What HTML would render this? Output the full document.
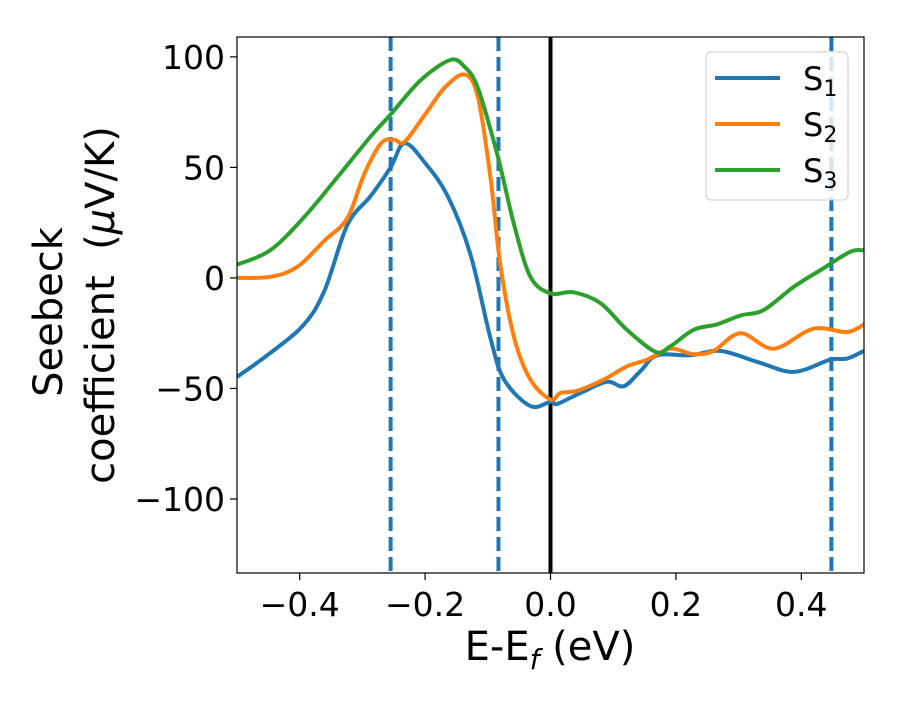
<!DOCTYPE html>
<html><head><meta charset="utf-8"><style>
html,body{margin:0;padding:0;background:#fff;}
svg text{font-family:"DejaVu Sans","Liberation Sans",sans-serif;fill:#000;}
</style></head><body>
<svg id="chart" width="900" height="700" viewBox="0 0 900 700" xmlns="http://www.w3.org/2000/svg">
<defs><clipPath id="plotclip"><rect x="237" y="37" width="627" height="536"/></clipPath></defs>
<g id="marks" clip-path="url(#plotclip)"></g>
<rect x="237" y="37" width="627" height="536" fill="none" stroke="#000" stroke-width="1.2"/>
<g id="axes"></g>
<text x="550" y="660" font-size="40" text-anchor="middle">E-E<tspan font-size="28" dy="9" font-style="italic">f</tspan><tspan dy="-9"> (eV)</tspan></text>
<text transform="translate(62,312) rotate(-90)" font-size="40" text-anchor="middle">Seebeck</text>
<text transform="translate(114,305) rotate(-90)" font-size="40" text-anchor="middle">coefficient&#160; (<tspan font-style="italic">μ</tspan>V/K)</text>
<g>
<rect x="706" y="52" width="142" height="148" rx="5" fill="#fff" fill-opacity="0.8" stroke="#ccc" stroke-width="1"/>
<line x1="715" y1="78" x2="780" y2="78" stroke="#1f77b4" stroke-width="4"/>
<text x="803" y="90" font-size="32">S<tspan font-size="22" dy="6">1</tspan></text>
<line x1="715" y1="124" x2="780" y2="124" stroke="#ff7f0e" stroke-width="4"/>
<text x="803" y="136" font-size="32">S<tspan font-size="22" dy="6">2</tspan></text>
<line x1="715" y1="170" x2="780" y2="170" stroke="#2ca02c" stroke-width="4"/>
<text x="803" y="182" font-size="32">S<tspan font-size="22" dy="6">3</tspan></text>
</g>
</svg>
<script>
const xTicks = [-0.4, -0.2, 0.0, 0.2, 0.4];
const xTickLabels = ["\u22120.4", "\u22120.2", "0.0", "0.2", "0.4"];
const yTicks = [100, 50, 0, -50, -100];
const yTickLabels = ["100", "50", "0", "\u221250", "\u2212100"];
const dashedX = [-0.255, -0.083, 0.448];
const s1x = [-0.5,-0.447,-0.393,-0.36,-0.324,-0.287,-0.255,-0.233,-0.2,-0.164,-0.128,-0.096,-0.074,-0.032,0,0.011,0.048,0.09,0.117,0.144,0.17,0.223,0.271,0.33,0.388,0.446,0.473,0.5];
const s1y = [-44.8,-34,-21,-5.4,24,37,50,61,52,37,11,-27,-46,-58,-56,-57,-52,-47,-49,-42,-35,-35,-33,-38,-42.5,-37,-36.5,-33];
const s2x = [-0.5,-0.447,-0.404,-0.36,-0.324,-0.297,-0.27,-0.249,-0.233,-0.2,-0.169,-0.137,-0.116,-0.096,-0.08,-0.058,-0.032,0,0.016,0.043,0.085,0.122,0.154,0.191,0.228,0.26,0.303,0.356,0.419,0.473,0.5];
const s2y = [0,0.5,5,17,27,47,61,62.5,61.5,74,86,92,82,46,6,-27,-46,-55,-52,-51,-46,-40,-37,-32,-34.5,-33,-25,-32,-23,-24.5,-21];
const s3x = [-0.5,-0.447,-0.393,-0.34,-0.287,-0.255,-0.207,-0.16,-0.137,-0.116,-0.085,-0.058,-0.032,0,0.037,0.08,0.122,0.168,0.191,0.228,0.266,0.303,0.34,0.388,0.431,0.478,0.5];
const s3y = [6,12.5,27.5,45.5,64,74,89.5,98.6,95.5,86,56,24,0.5,-7,-6.5,-11.5,-23.5,-33.5,-31,-23.5,-21,-17,-14.5,-4,3.6,11.8,12.5];

const X0=237, W=627, XMIN=-0.5, XMAX=0.5;
const YTOP=37, H=536, YMIN=-133.5, YMAX=109;
function sx(v){return X0+(v-XMIN)/(XMAX-XMIN)*W;}
function sy(v){return YTOP+(YMAX-v)/(YMAX-YMIN)*H;}
const NS="http://www.w3.org/2000/svg";
const marks=document.getElementById('marks'), axes=document.getElementById('axes');
function mk(tag,attrs,parent){const e=document.createElementNS(NS,tag);for(const k in attrs)e.setAttribute(k,attrs[k]);parent.appendChild(e);return e;}

xTicks.forEach((t,i)=>{
  const tk=mk('line',{x1:sx(t),x2:sx(t),y1:573,y2:580,stroke:'#000','stroke-width':1.2},axes);
  
  
  const lb=mk('text',{x:sx(t),y:616,'font-size':33,'text-anchor':'middle'},axes);
  lb.textContent=xTickLabels[i];
  
  
});
yTicks.forEach((t,i)=>{
  const tk=mk('line',{x1:230,x2:237,y1:sy(t),y2:sy(t),stroke:'#000','stroke-width':1.2},axes);
  
  
  const lb=mk('text',{x:225,y:sy(t)+12,'font-size':33,'text-anchor':'end'},axes);
  lb.textContent=yTickLabels[i];
  
  
});

dashedX.forEach(d=>{
  const l=mk('line',{x1:sx(d),x2:sx(d),y1:YTOP,y2:YTOP+H,stroke:'#1f77b4','stroke-width':4,'stroke-dasharray':'14,6'},marks);
  
  
});
const fl=mk('line',{x1:sx(0),x2:sx(0),y1:YTOP,y2:YTOP+H,stroke:'#000','stroke-width':4},marks);



function smooth(xs,ys){
  const p=xs.map((x,i)=>[sx(x),sy(ys[i])]);
  let d='M'+p[0][0].toFixed(1)+','+p[0][1].toFixed(1);
  for(let i=0;i<p.length-1;i++){
    const p0=p[i-1]||p[i],p1=p[i],p2=p[i+1],p3=p[i+2]||p[i+1];
    const c1=[p1[0]+(p2[0]-p0[0])/6,p1[1]+(p2[1]-p0[1])/6];
    const c2=[p2[0]-(p3[0]-p1[0])/6,p2[1]-(p3[1]-p1[1])/6];
    d+=' C'+c1.map(v=>v.toFixed(1))+' '+c2.map(v=>v.toFixed(1))+' '+p2.map(v=>v.toFixed(1));
  }
  return d;
}
[[s1x,s1y,'#1f77b4','series-s1'],[s2x,s2y,'#ff7f0e','series-s2'],[s3x,s3y,'#2ca02c','series-s3']].forEach(s=>{
  const path=mk('path',{d:smooth(s[0],s[1]),fill:'none',stroke:s[2],'stroke-width':4,'stroke-linejoin':'round'},marks);
  
  
});
</script>
</body></html>
